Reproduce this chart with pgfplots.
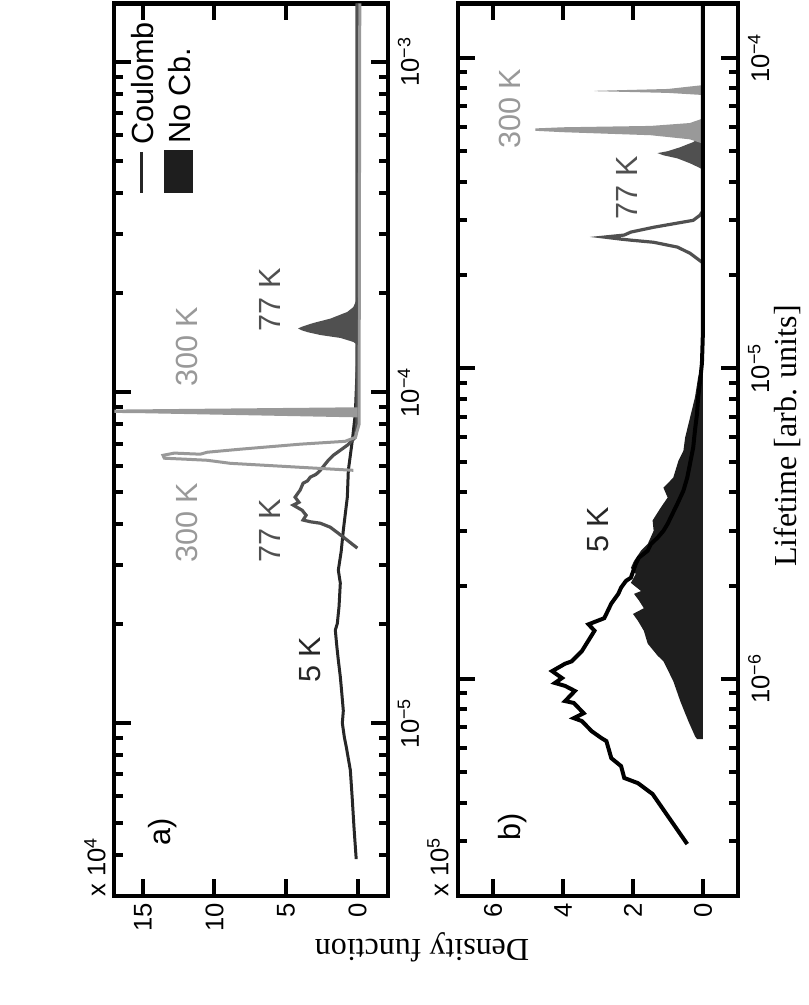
\documentclass[border=0pt]{standalone}
\usepackage{fontspec}
\setmainfont{Liberation Serif}
\newfontfamily\hv{Liberation Sans}
\usepackage{pgfplots}
\pgfplotsset{compat=1.18}
\definecolor{lg}{HTML}{999999}
\definecolor{mg}{HTML}{505050}
\definecolor{dg}{HTML}{262626}
\definecolor{fd}{HTML}{1E1E1E}
\newcommand{\tfont}{\hv\fontsize{12.8}{14}\selectfont}
\newcommand{\afont}{\hv\fontsize{15.3}{17}\selectfont}
\newcommand{\lfont}{\fontsize{16}{18}\selectfont}
\pgfplotsset{
 mycommon/.style={
  scale only axis, anchor=south west,
  height=446.35pt,
  x dir=reverse,
  axis line style={line width=2.2pt},
  tick align=inside, xtick pos=both, ytick pos=both,
  xticklabel pos=lower, yticklabel pos=right,
  major tick length=8.5pt, minor tick length=4.5pt,
  tick style={line width=2pt, black},
  xticklabel style={rotate=90, anchor=east, font=\tfont},
  yticklabel style={rotate=90, anchor=north, font=\tfont, yshift=-1.5pt},
  clip=true,
 }
}
\begin{document}
\begin{tikzpicture}
\useasboundingbox (0,0) rectangle (404pt,502.5pt);
% ---------------- panel a ----------------
\begin{axis}[ymode=log, mycommon, at={(57.15pt,54.5pt)}, width=136.7pt,
  xmin=-2.1, xmax=17, ymin=3e-6, ymax=1.5e-3,
  xtick={0,5,10,15}, xticklabels={0,5,10,15},
  ytick={1e-5,1e-4,1e-3},
  yticklabels={10\textsuperscript{−5},10\textsuperscript{−4},10\textsuperscript{−3}},
  minor ytick={4e-6,5e-6,6e-6,7e-6,8e-6,9e-6,2e-5,3e-5,4e-5,5e-5,6e-5,7e-5,8e-5,9e-5,2e-4,3e-4,4e-4,5e-4,6e-4,7e-4,8e-4,9e-4}]
% 5 K Coulomb
\addplot[dg, line width=1.5pt] coordinates {(0.1,3.88e-6) (0.25,4.8e-6) (0.37,5.85e-6) (0.51,7.21e-6) (0.8,8.5e-6) (0.93,9.07e-6) (1.07,1.0e-5) (1.0,1.09e-5) (1.12,1.25e-5) (1.21,1.38e-5) (1.35,1.55e-5) (1.45,1.7e-5) (1.56,1.91e-5) (1.42,2.0e-5) (1.3,2.25e-5) (1.21,2.65e-5) (1.35,2.9e-5) (1.15,3.3e-5) (1.0,3.83e-5) (0.72,4.82e-5) (0.65,5.81e-5) (0.37,7.16e-5) (0.16,8.64e-5) (0.02,1.22e-4) (0,1.54e-4) (0,1.5e-3)};
% 77 K Coulomb
\addplot[mg, line width=1.6pt] coordinates {(0.02,3.38e-5) (1.0,3.65e-5) (1.91,3.91e-5) (2.61,4.02e-5) (3.3,4.06e-5) (3.81,4.11e-5) (3.6,4.25e-5) (3.88,4.40e-5) (4.5,4.56e-5) (4.1,4.65e-5) (4.37,4.82e-5) (4.02,5.06e-5) (3.81,5.31e-5) (3.5,5.4e-5) (3.31,5.54e-5) (2.9,5.65e-5) (2.61,5.81e-5) (2.05,6.23e-5) (1.7,6.45e-5) (0.72,6.92e-5) (0.16,7.31e-5) (0.05,8e-5) (0.05,1.5e-3)};
% 300 K Coulomb
\addplot[lg, line width=1.5pt] coordinates {(0.3,5.81e-5) (8.9,6.10e-5) (10.5,6.23e-5) (12.1,6.28e-5) (13.5,6.32e-5) (13.6,6.45e-5) (12.8,6.55e-5) (11.0,6.50e-5) (10.5,6.59e-5) (8.2,6.73e-5) (4.0,6.97e-5) (0.87,7.11e-5) (0.16,7.31e-5) (-0.1,8e-5) (-0.15,1.5e-3)};
% 77 K no Coulomb
\addplot[fill=mg, draw=none] coordinates {(0,1.94e-4) (0.3,1.81e-4) (0.72,1.75e-4) (1.91,1.67e-4) (3.1,1.62e-4) (3.87,1.58e-4) (4.16,1.56e-4) (3.9,1.54e-4) (3.5,1.52e-4) (2.6,1.49e-4) (1.2,1.46e-4) (0.3,1.42e-4) (0,1.39e-4)};
% 300 K no Coulomb
\addplot[fill=lg, draw=none] coordinates {(0,8.40e-5) (15.2,8.65e-5) (25,8.72e-5) (25,8.80e-5) (15.2,8.88e-5) (0,9.01e-5)};
\end{axis}
% ---------------- panel b ----------------
\begin{axis}[ymode=log, mycommon, at={(229pt,54.5pt)}, width=140pt,
  xmin=-1, xmax=7, ymin=2e-7, ymax=1.5e-4,
  xtick={0,2,4,6}, xticklabels={0,2,4,6},
  ytick={1e-6,1e-5,1e-4},
  yticklabels={10\textsuperscript{−6},10\textsuperscript{−5},10\textsuperscript{−4}},
  minor ytick={3e-7,4e-7,5e-7,6e-7,7e-7,8e-7,9e-7,2e-6,3e-6,4e-6,5e-6,6e-6,7e-6,8e-6,9e-6,2e-5,3e-5,4e-5,5e-5,6e-5,7e-5,8e-5,9e-5}]
% 5 K no Coulomb
\addplot[fill=fd, draw=none] coordinates {(0,6.40e-7) (0.17,6.40e-7) (0.23,6.55e-7) (0.42,7.32e-7) (0.65,8.49e-7) (0.85,9.85e-7) (1.13,1.14e-6) (1.30,1.19e-6) (1.58,1.30e-6) (1.69,1.43e-6) (1.86,1.54e-6) (2.0,1.62e-6) (1.69,1.69e-6) (1.83,1.79e-6) (1.97,1.88e-6) (1.77,1.92e-6) (2.06,2.04e-6) (1.92,2.18e-6) (2.06,2.28e-6) (1.97,2.40e-6) (1.77,2.59e-6) (1.58,2.72e-6) (1.41,3.0e-6) (1.44,3.24e-6) (1.21,3.56e-6) (1.01,3.84e-6) (1.13,4.13e-6) (0.85,4.45e-6) (0.70,5.05e-6) (0.56,5.43e-6) (0.51,5.99e-6) (0.37,6.95e-6) (0.23,8.06e-6) (0.14,9.35e-6) (0.03,1.04e-5) (0,1.14e-5)};
% 77 K no Coulomb
\addplot[fill=mg, draw=none] coordinates {(0,4.35e-5) (0.08,4.42e-5) (0.37,4.58e-5) (0.73,4.75e-5) (1.13,4.86e-5) (1.30,4.94e-5) (1.01,5.01e-5) (0.65,5.16e-5) (0.28,5.36e-5) (0.08,5.56e-5) (0,5.65e-5)};
% 300 K no Coulomb
\addplot[fill=lg, draw=none] coordinates {(0,7.60e-5) (1.0,7.72e-5) (3.1,7.82e-5) (3.1,7.84e-5) (1.0,7.95e-5) (0,8.18e-5)};
% 300 K Coulomb
\addplot[lg, fill=lg, line width=1.2pt] coordinates {(0.03,5.36e-5) (0.37,5.52e-5) (1.49,5.69e-5) (4.0,5.82e-5) (4.79,5.88e-5) (4.0,5.93e-5) (1.49,5.99e-5) (0.37,6.12e-5) (0.03,6.31e-5)};
% 77 K Coulomb
\addplot[mg, line width=1.6pt] coordinates {(0.03,2.20e-5) (0.37,2.35e-5) (0.73,2.46e-5) (1.41,2.55e-5) (2.06,2.59e-5) (2.34,2.61e-5) (2.82,2.65e-5) (2.25,2.69e-5) (2.06,2.75e-5) (1.41,2.85e-5) (0.73,2.94e-5) (0.28,3.0e-5) (0.08,3.12e-5) (0.03,3.19e-5)};
% 5 K Coulomb
\addplot[black, line width=2pt] coordinates {(0.45,2.94e-7) (1.44,4.26e-7) (1.86,4.62e-7) (2.25,4.80e-7) (2.34,5.24e-7) (2.62,5.56e-7) (2.76,6.31e-7) (2.90,6.45e-7) (3.18,6.79e-7) (3.46,7.32e-7) (3.69,7.48e-7) (3.41,7.76e-7) (3.69,8.37e-7) (3.94,8.49e-7) (3.66,9.15e-7) (3.94,9.50e-7) (4.23,9.71e-7) (4.03,1.007e-6) (4.31,1.06e-6) (3.94,1.12e-6) (3.75,1.14e-6) (3.46,1.23e-6) (3.10,1.43e-6) (3.27,1.50e-6) (2.82,1.57e-6) (2.62,1.75e-6) (2.42,1.88e-6) (2.34,1.97e-6) (2.20,2.07e-6) (2.06,2.12e-6) (1.92,2.35e-6) (1.83,2.46e-6) (1.58,2.59e-6) (1.49,2.72e-6) (1.30,2.85e-6) (1.13,3.0e-6) (1.01,3.16e-6) (0.93,3.30e-6) (0.73,3.67e-6) (0.56,4.04e-6) (0.45,4.45e-6) (0.37,4.94e-6) (0.28,5.56e-6) (0.23,6.31e-6) (0.17,7.16e-6) (0.14,8.06e-6) (0.08,9.15e-6) (0.03,1.04e-5) (0,1.33e-5) (0,1.5e-4)};
\end{axis}
% ---------------- annotations ----------------
\begin{scope}[every node/.style={inner sep=0pt}]
% legend (panel a)
\draw[dg, line width=1.5pt] (70.5pt,426.5pt) -- (70.5pt,406pt);
\fill[fd] (82pt,427.5pt) rectangle (96.5pt,406pt);
\node[rotate=90, anchor=west, font=\afont] at (71.25pt,430pt) {Coulomb};
\node[rotate=90, anchor=west, font=\afont] at (89.75pt,430.5pt) {No Cb.};
% panel a labels
\node[rotate=90, font=\afont] at (81.5pt,86.5pt) {a)};
\node[rotate=90, font=\tfont] at (47.5pt,69pt) {x 10\textsuperscript{4}};
\node[rotate=90, font=\afont, text=dg] at (155pt,172.5pt) {5 K};
\node[rotate=90, font=\afont, text=mg] at (135pt,237pt) {77 K};
\node[rotate=90, font=\afont, text=lg] at (93.5pt,241pt) {300 K};
\node[rotate=90, font=\afont, text=lg] at (93.5pt,329pt) {300 K};
\node[rotate=90, font=\afont, text=mg] at (135pt,352.5pt) {77 K};
% panel b labels
\node[rotate=90, font=\afont] at (256.5pt,89pt) {b)};
\node[rotate=90, font=\tfont] at (219pt,69pt) {x 10\textsuperscript{5}};
\node[rotate=90, font=\afont, text=dg] at (299pt,237.5pt) {5 K};
\node[rotate=90, font=\afont, text=mg] at (313.5pt,408.5pt) {77 K};
\node[rotate=90, font=\afont, text=lg] at (255pt,448pt) {300 K};
% axis labels
\node[rotate=180, font=\lfont] at (211pt,29pt) {Density function};
\node[rotate=90, anchor=west, font=\lfont] at (393.5pt,219pt) {Lifetime [arb. units]};
\end{scope}
\end{tikzpicture}
\end{document}
